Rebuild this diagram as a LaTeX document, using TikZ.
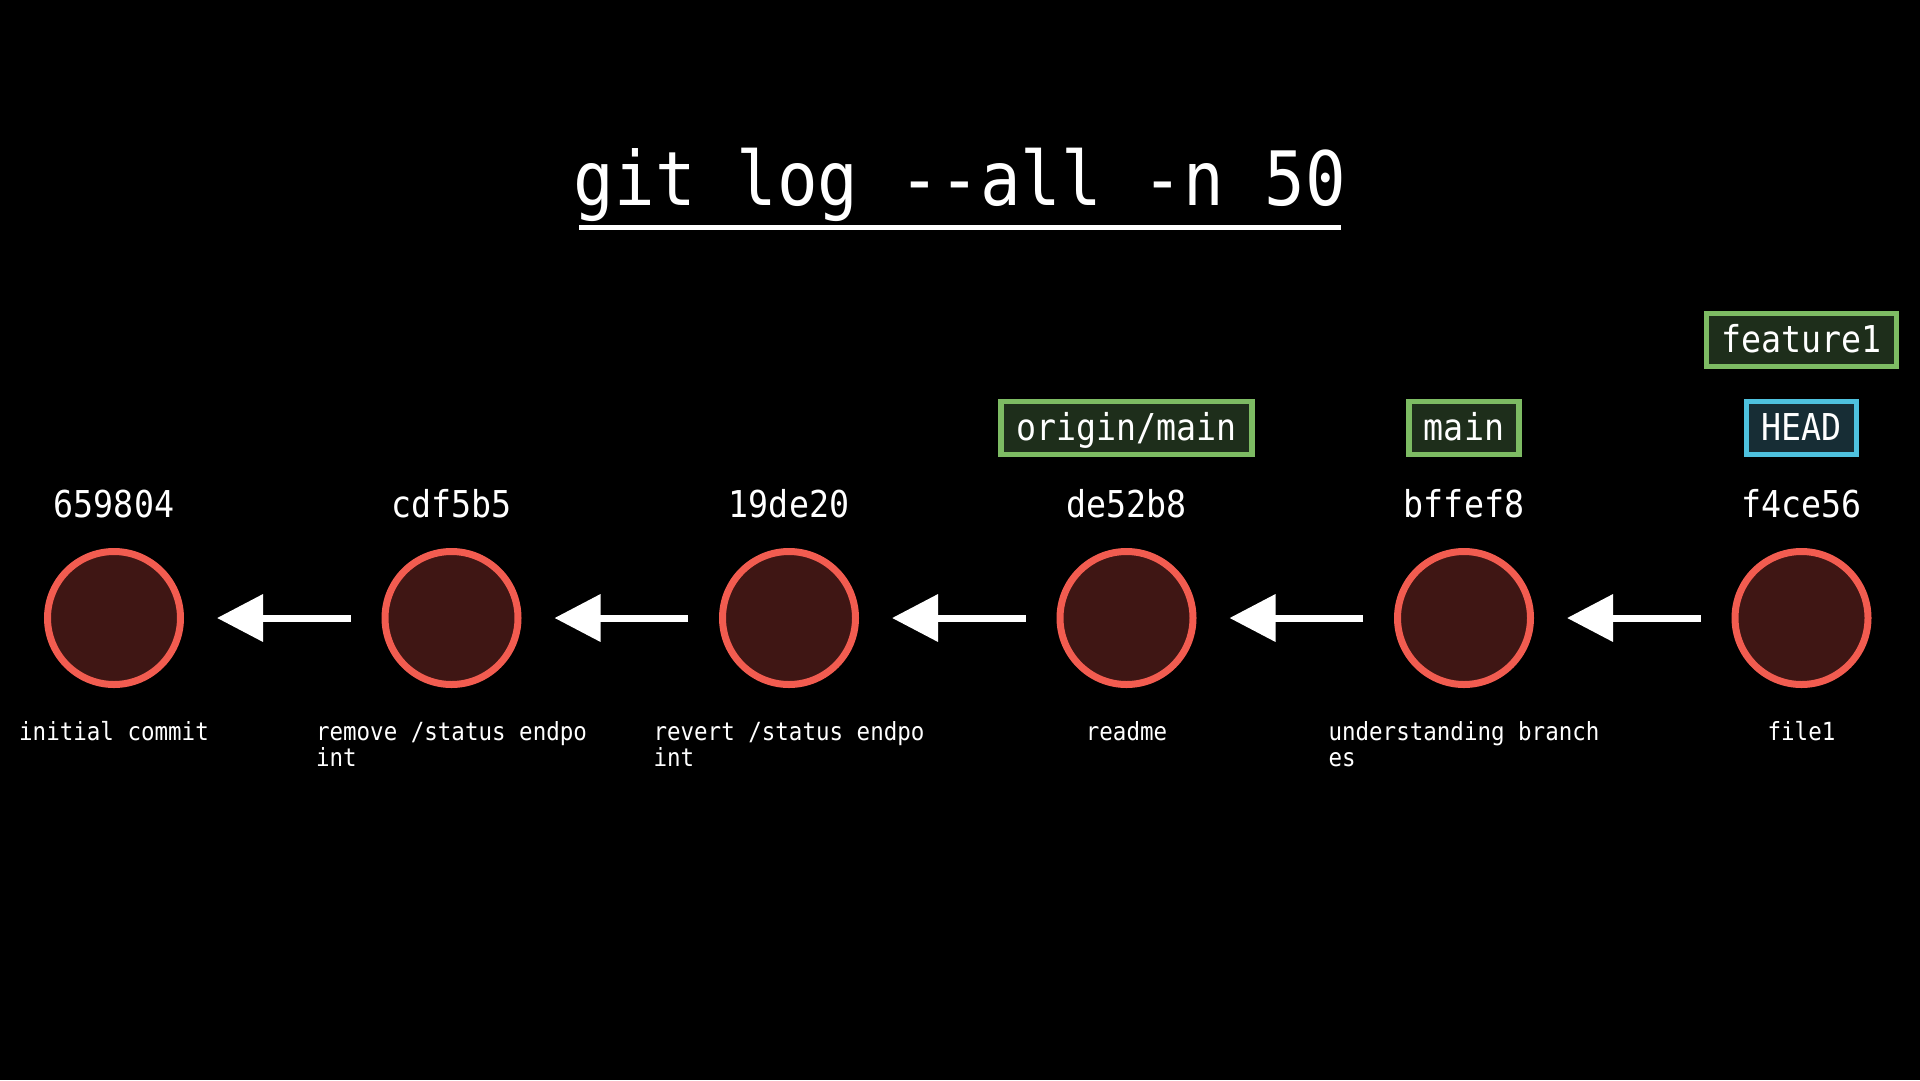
\documentclass[tikz,border=0pt]{standalone}
\usepackage{fontspec}
\newfontfamily\gitmono{DejaVu Sans Mono}[FakeStretch=0.9]
\usetikzlibrary{arrows.meta}
\definecolor{commitfill}{HTML}{3F1614}
\definecolor{commitline}{HTML}{F25C50}
\definecolor{brfill}{HTML}{1E2E1B}
\definecolor{brline}{HTML}{7DBB63}
\definecolor{headfill}{HTML}{172D35}
\definecolor{headline}{HTML}{4EC1DE}
\begin{document}
\begin{tikzpicture}[x=1pt,y=-1pt,
  commit/.style={circle, draw=commitline, fill=commitfill, line width=7pt, minimum size=133pt, inner sep=0pt},
  hash/.style={text=white, font=\gitmono\fontsize{37}{40}\selectfont, anchor=base, inner sep=0pt},
  msg/.style={text=white, font=\gitmono\fontsize{25}{26}\selectfont, anchor=north, align=left, inner sep=0pt},
  refbox/.style={draw=brline, fill=brfill, line width=5.5pt, text=white, font=\gitmono\fontsize{37}{40}\selectfont, minimum height=53pt, inner xsep=15pt, inner ysep=0pt, text height=29.5pt, text depth=5.5pt},
  headbox/.style={refbox, draw=headline, fill=headfill},
  parent/.style={draw=white, line width=7pt, -{Triangle[length=46pt,width=46pt]}},
  titletext/.style={text=white, font=\gitmono\fontsize{75}{80}\selectfont, anchor=base, inner sep=0pt}
]
\useasboundingbox (0,0) rectangle (1920,1080);
\fill[black] (0,0) rectangle (1920,1080);

\node[titletext] (title) at (960,205) {git log -{}-all -n 50};
\draw[white, line width=5pt] (579,227.5) -- (1341,227.5);

\node[commit] (c1) at (114,618) {};
\node[commit] (c2) at (451.5,618) {};
\node[commit] (c3) at (789,618) {};
\node[commit] (c4) at (1126.5,618) {};
\node[commit] (c5) at (1464,618) {};
\node[commit] (c6) at (1801.5,618) {};

\node[hash] (h1) at (114,517) {659804};
\node[hash] (h2) at (451.5,517) {cdf5b5};
\node[hash] (h3) at (789,517) {19de20};
\node[hash] (h4) at (1126.5,517) {de52b8};
\node[hash] (h5) at (1464,517) {bffef8};
\node[hash] (h6) at (1801.5,517) {f4ce56};

\node[msg] (m1) at (114,721) {initial commit};
\node[msg] (m2) at (451.5,721) {remove /status endpo\\int};
\node[msg] (m3) at (789,721) {revert /status endpo\\int};
\node[msg] (m4) at (1126.5,721) {readme};
\node[msg] (m5) at (1464,721) {understanding branch\\es};
\node[msg] (m6) at (1801.5,721) {file1};

\node[refbox] (origin) at (1126.5,428) {origin/main};
\node[refbox] (mainb) at (1464,428) {main};
\node[headbox] (head) at (1801.5,428) {HEAD};
\node[refbox] (feat) at (1801.5,340) {feature1};

\draw[parent] ([xshift=-31pt]c2.west) -- ([xshift=33pt]c1.east);
\draw[parent] ([xshift=-31pt]c3.west) -- ([xshift=33pt]c2.east);
\draw[parent] ([xshift=-31pt]c4.west) -- ([xshift=33pt]c3.east);
\draw[parent] ([xshift=-31pt]c5.west) -- ([xshift=33pt]c4.east);
\draw[parent] ([xshift=-31pt]c6.west) -- ([xshift=33pt]c5.east);
\end{tikzpicture}
\end{document}
